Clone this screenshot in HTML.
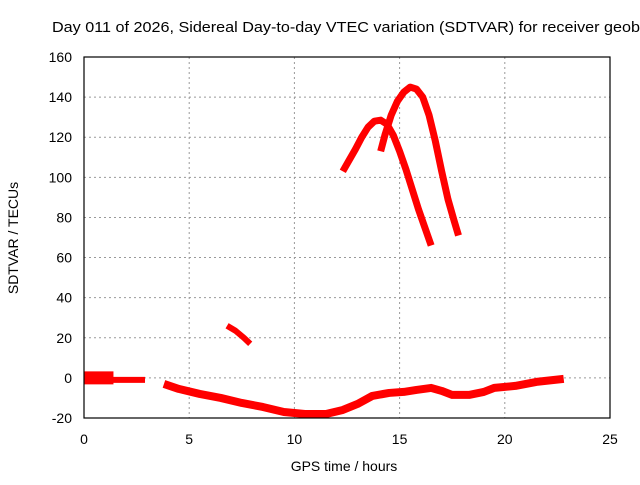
<!DOCTYPE html>
<html><head><meta charset="utf-8"><style>
body{margin:0;background:#fff;width:640px;height:480px;overflow:hidden}
svg{font-family:"Liberation Sans",sans-serif}
</style></head><body>
<svg id="c" width="640" height="480">
<text x="52" y="32" font-size="15" textLength="588" lengthAdjust="spacingAndGlyphs" fill="#000">Day 011 of 2026, Sidereal Day-to-day VTEC variation (SDTVAR) for receiver geob</text>
<text x="344" y="471" font-size="14" text-anchor="middle">GPS time / hours</text>
<text transform="translate(18,238) rotate(-90)" font-size="14" text-anchor="middle">SDTVAR / TECUs</text>
<g id="grid"></g><g id="ser"></g>
<rect x="84" y="57" width="526" height="361" fill="none" stroke="#000" stroke-width="1.2"/>
</svg>
<script>
const xTicks=[0,5,10,15,20,25];
const yTicks=[-20,0,20,40,60,80,100,120,140,160];
const arc1X=[12.3,12.6,12.9,13.2,13.5,13.8,14.1,14.4,14.7,15.0,15.3,15.6,15.9,16.2,16.5];
const arc1Y=[103,108.5,114,120,125,128,128.5,126.5,121,113,104,94,84,75,66];
const arc2X=[14.1,14.3,14.6,14.9,15.2,15.5,15.8,16.1,16.4,16.7,17.0,17.3,17.6,17.8];
const arc2Y=[113,121,131,138,142.5,145,144,140,131,118,103,89,78,71];
const shortX=[6.8,7.2,7.6,7.9];
const shortY=[26,23.5,20,17];
const startAX=[0,0.6,1.4];const startAY=[0,0,0];
const startBX=[1.3,2,2.9];const startBY=[-1,-1,-1];
const mainX=[3.8,4.5,5.5,6.5,7.5,8.5,9.5,10.5,11.5,12.3,13,13.7,14.5,15.2,15.8,16.5,17,17.5,18.3,19,19.5,20.5,21.5,22.8];
const mainY=[-3,-5.5,-8,-10,-12.5,-14.5,-17,-18,-18,-16,-13,-9,-7.5,-7,-6,-5,-6.5,-8.5,-8.5,-7,-5,-4,-2,-0.5];
const sx=v=>84+v*526/25, sy=v=>418-(v+20)*361/180;
const NS="http://www.w3.org/2000/svg";
const g=document.getElementById('grid'), s=document.getElementById('ser');
function mk(t,a,p){const e=document.createElementNS(NS,t);for(const k in a)e.setAttribute(k,a[k]);p.appendChild(e);return e;}
xTicks.forEach(v=>{
 if(v>0&&v<25){const l=mk('line',{x1:sx(v),x2:sx(v),y1:57,y2:418,stroke:'#999','stroke-dasharray':'2,3'},g);
 
 }
 const t=mk('text',{x:sx(v),y:444,'font-size':14,'text-anchor':'middle'},g);t.textContent=v;
 
 
});
yTicks.forEach(v=>{
 if(v>-20&&v<160){const l=mk('line',{x1:84,x2:610,y1:sy(v),y2:sy(v),stroke:'#999','stroke-dasharray':'2,3'},g);
 
 }
 const t=mk('text',{x:72,y:sy(v)+5,'font-size':14,'text-anchor':'end'},g);t.textContent=v;
 
 
});
function line(X,Y,w,name){
 const p=mk('polyline',{points:X.map((x,i)=>sx(x)+','+sy(Y[i])).join(' '),fill:'none',stroke:'#f00','stroke-width':w,'stroke-linejoin':'round'},s);
 
 
}
line(arc1X,arc1Y,7,'series-arc-1');
line(arc2X,arc2Y,7,'series-arc-2');
line(shortX,shortY,6,'series-short-segment');
line(startAX,startAY,13,'series-start-band');
line(startBX,startBY,6,'series-start-tail');
line(mainX,mainY,8,'series-main-baseline');
</script>
</body></html>
